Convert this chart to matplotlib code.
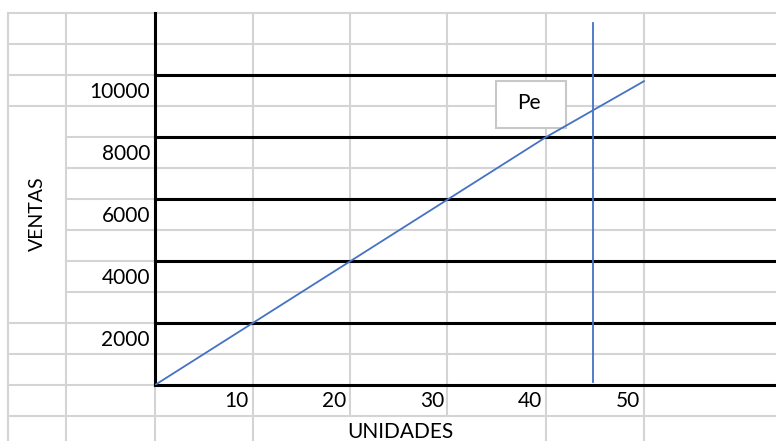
import matplotlib
matplotlib.use("Agg")
import matplotlib.pyplot as plt
from matplotlib.patches import Rectangle

plt.rcParams['font.family'] = ['Lato', 'DejaVu Sans']

# data
unidades = [0, 10, 20, 30, 40, 50]
ventas = [0, 2000, 4000, 6000, 8000, 9800]
pe_x = [44.8, 44.8]
pe_y = [100, 11680]
y_ticks = [2000, 4000, 6000, 8000, 10000]
x_ticks = [10, 20, 30, 40, 50]
black_rows = [0, 2000, 4000, 6000, 8000, 10000]

W, H = 776, 441
fig = plt.figure(figsize=(W / 100, H / 100), dpi=100)

# spreadsheet background in pixel coordinates
bg = fig.add_axes([0, 0, 1, 1])
bg.set_xlim(0, W)
bg.set_ylim(H, 0)
bg.axis('off')
grey = '#d4d4d4'
cols = [8, 66, 155, 253, 350, 447, 546, 644]
rows = [13 + 31 * k for k in range(15)]
for y in rows:
    x0 = 66 if 106 < y < 323 else 8  # merged VENTAS cell
    bg.plot([x0, W], [y, y], color=grey, lw=1.5, zorder=1)
for x in cols:
    y1 = 416 if x in (350, 447) else H  # merged UNIDADES cell
    bg.plot([x, x], [13, y1], color=grey, lw=1.5, zorder=1)
bg.add_patch(Rectangle((496, 81), 70, 47, facecolor='white', edgecolor='#c8c8c8', lw=1.5, zorder=2))
bg.text(529, 103, 'Pe', ha='center', va='center', fontsize=15, zorder=3)
bg.text(37, 214, 'VENTAS', rotation=90, ha='center', va='center', fontsize=14)
bg.text(400, 432, 'UNIDADES', ha='center', va='center', fontsize=15)

# chart area
ax = fig.add_axes([155 / W, (H - 385) / H, (W - 155) / W, (385 - 13) / H])
ax.set_facecolor('none')
ax.set_xlim(0, (W - 155) / 9.78)
ax.set_ylim(0, 12000)
ax.axis('off')
for v in black_rows:
    ax.axhline(v, color='black', lw=2.2, clip_on=False)
ax.axvline(0, color='black', lw=2.2, clip_on=False)

ax.plot(unidades, ventas, color='#4472C4', lw=1.3)
ax.plot(pe_x, pe_y, color='#4472C4', lw=1.3)

for v in y_ticks:
    ax.annotate(str(v), xy=(0, v), xytext=(-5, -17), textcoords='offset pixels',
                ha='right', va='center', fontsize=15)
for v in x_ticks:
    ax.annotate(str(v), xy=(v, 0), xytext=(-4, -16), textcoords='offset pixels',
                ha='right', va='center', fontsize=15)

fig.savefig('out.png', dpi=100, facecolor='white')
